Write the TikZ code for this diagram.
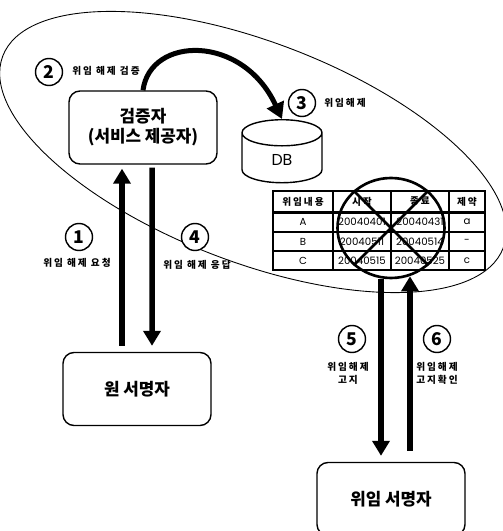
\documentclass[tikz,border=0pt]{standalone}
\usepackage{fontspec}
\setmainfont{Noto Sans CJK KR}
\newfontfamily\latinfont{Poppins}
\newfontfamily\notefont{Noto Sans CJK KR}[LetterSpace=20]
\usetikzlibrary{arrows.meta,shapes.geometric}
\tikzset{
  actor/.style={draw, rounded corners=0.22cm, line width=0.8pt, minimum width=2.96cm, minimum height=1.46cm, align=center, font=\fontsize{9.6}{11.3}\selectfont\bfseries},
  num/.style={draw, circle, fill=white, line width=0.8pt, minimum size=0.54cm, inner sep=0pt, font=\fontsize{10}{10}\selectfont\bfseries},
  note/.style={align=center, inner sep=0pt, font=\notefont\fontsize{5.5}{7.4}\selectfont\bfseries},
  cell/.style={draw, line width=0.8pt, inner sep=0pt, font=\latinfont\fontsize{5.8}{6}\selectfont},
  bigarrow/.style={-{Triangle[width=0.34cm,length=0.3cm]}, line width=0.11cm},
  crossline/.style={line width=1.5pt}
}
\newcommand{\headtext}[1]{{\notefont\fontsize{5.5}{6}\selectfont\bfseries #1}}
\begin{document}
\begin{tikzpicture}
\useasboundingbox (0,0) rectangle (10.04,10.62);

% 타원 영역
\node[draw, ellipse, line width=0.5pt, minimum width=10.72cm, minimum height=4.4cm, rotate=-21] (zone) at (5.06,7.58) {};

% 참여자
\node[actor] (verifier) at (2.86,8.07) {검증자\\(서비스 제공자)};
\node[actor] (signer)   at (2.74,2.84) {원 서명자};
\node[actor] (proxy)    at (7.82,0.64) {위임 서명자};

% DB
\node[draw, cylinder, shape border rotate=90, aspect=0.8, line width=0.8pt, minimum width=1.6cm, minimum height=1.26cm, font=\latinfont\fontsize{9}{9}\selectfont] (DB) at (5.64,7.39) {\raisebox{0.08cm}{DB}};

% 위임 표
\foreach \row/\ry/\rh/\ca/\cb/\cc/\cd in {
    h/6.59/0.42/\headtext{위임내용}/\headtext{시작}/\headtext{종료}/\headtext{제약},
    a/6.18/0.40/A/20040401/20040431/a,
    b/5.79/0.38/B/20040511/20040514/-,
    c/5.41/0.38/C/20040515/20040525/c}{
  \node[cell, minimum width=1.2cm,  minimum height=\rh cm] (c1\row) at (6.06,\ry) {\ca};
  \node[cell, minimum width=1.16cm, minimum height=\rh cm] (c2\row) at (7.24,\ry) {\cb};
  \node[cell, minimum width=1.16cm, minimum height=\rh cm] (c3\row) at (8.40,\ry) {\cc};
  \node[cell, minimum width=0.72cm, minimum height=\rh cm] (c4\row) at (9.34,\ry) {\cd};
}
\draw[line width=1.5pt] (c1h.south west) -- (c4h.south east);

% 취소 표시
\node[draw, ellipse, line width=1.5pt, minimum width=2.14cm, minimum height=2cm, inner sep=0pt] (cancel) at (7.82,6.06) {};
\draw[crossline] (cancel.135) -- (cancel.-45);
\draw[crossline] (cancel.45) -- (cancel.-135);

% 단계 번호
\node[num] (n1) at (1.58,5.88) {1};
\node[num] (n2) at (0.98,9.18) {2};
\node[num] (n3) at (6.04,8.56) {3};
\node[num] (n4) at (3.90,5.88) {4};
\node[num] (n5) at (7.04,3.84) {5};
\node[num] (n6) at (8.74,3.84) {6};

% 단계 설명
\node[note] (t1) at (1.54,5.36) {위임 해제 요청};
\node[note] (t2) at (2.12,9.20) {위임 해제 검증};
\node[note] (t3) at (6.90,8.56) {위임해제};
\node[note] (t4) at (3.94,5.32) {위임 해제 응답};
\node[note] (t5) at (6.96,3.15) {위임해제\\고지};
\node[note] (t6) at (8.74,3.15) {위임해제\\고지확인};

% 화살표
\draw[bigarrow, shorten <=0.12cm, shorten >=0.08cm] ([xshift=-0.3cm]signer.north) -- ([xshift=-0.42cm]verifier.south);
\draw[bigarrow, shorten <=0.06cm, shorten >=0.12cm] ([xshift=0.18cm]verifier.south) -- ([xshift=0.3cm]signer.north);
\draw[bigarrow, shorten >=0.12cm] ([xshift=-0.2cm]cancel.south) -- ([xshift=-0.2cm]proxy.north);
\draw[bigarrow, shorten <=0.22cm, shorten >=-0.06cm] ([xshift=0.38cm]proxy.north) -- ([xshift=0.38cm]cancel.south);
\draw[-{Triangle[width=0.36cm,length=0.32cm]}, line width=0.1cm] (verifier.north) .. controls (3,9.9) and (4.85,9.95) .. (DB.north);

\end{tikzpicture}
\end{document}
